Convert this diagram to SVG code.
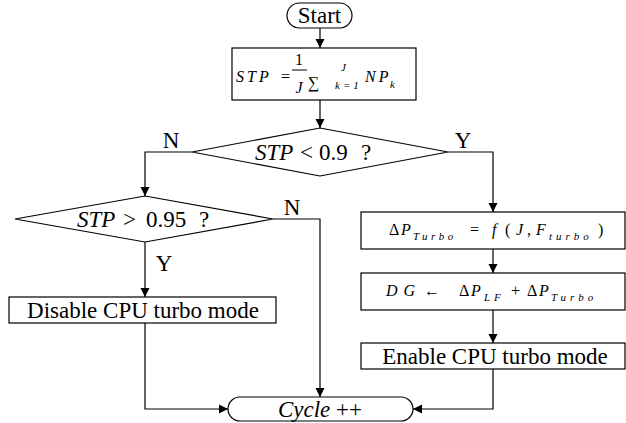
<svg xmlns="http://www.w3.org/2000/svg" width="626" height="423" viewBox="0 0 626 423" font-family="'Liberation Serif', 'Times New Roman', Tinos, 'DejaVu Serif', serif">
<defs>
<marker id="ah" markerWidth="10" markerHeight="10" refX="9" refY="5" orient="auto" markerUnits="userSpaceOnUse">
<path d="M0,0.5 L9,5 L0,9.5 Z" fill="#000"/>
</marker>
<style>
.s{fill:#fff;stroke:#000;stroke-width:1.2}
.c{fill:none;stroke:#000;stroke-width:1.2;marker-end:url(#ah)}
text{font-family:'Liberation Serif','Times New Roman',Tinos,'DejaVu Serif',serif;fill:#000}
.t{font-size:23px}
.m{font-size:16px;font-style:italic}
.ms{font-size:11px;font-style:italic}
.n{font-size:16px}
.i{font-style:italic}
</style>
</defs>
<rect width="626" height="423" fill="#fff"/>
<g id="connectors">
<path class="c" d="M320,28 V48"/>
<path class="c" d="M320,100 V128"/>
<path class="c" d="M192,152 H145 V196"/>
<path class="c" d="M273,219 H320 V397"/>
<path class="c" d="M145,242 V297"/>
<path class="c" d="M145,323 V409 H228"/>
<path class="c" d="M448,152 H493 V212"/>
<path class="c" d="M493,249 V273"/>
<path class="c" d="M493,310 V343"/>
<path class="c" d="M493,369 V409 H413"/>
<text class="t" x="171" y="148" text-anchor="middle">N</text>
<text class="t" x="463" y="148" text-anchor="middle">Y</text>
<text class="t" x="292" y="215" text-anchor="middle">N</text>
<text class="t" x="164" y="271" text-anchor="middle">Y</text>
</g>
<g id="start">
<rect class="s" x="287" y="3" width="65" height="25" rx="12.5"/>
<text class="t" x="319.5" y="23" text-anchor="middle" font-size="22">Start</text>
</g>
<g id="stp">
<rect class="s" x="232" y="48" width="184" height="52"/>
<text class="m" x="236" y="82" letter-spacing="3" font-size="15">STP</text>
<text class="n" x="281" y="82" font-size="15">=</text>
<text class="n" x="299" y="65" text-anchor="middle" font-size="15">1</text>
<line x1="292" y1="70" x2="307" y2="70" stroke="#000" stroke-width="1"/>
<text class="m" x="299" y="93" text-anchor="middle" font-size="15">J</text>
<text class="n" x="308" y="88" font-size="29">∑</text>
<text class="ms" x="341" y="71">J</text>
<text class="ms" x="335" y="89">k</text>
<text class="ms" x="343" y="89" font-style="normal">= 1</text>
<text class="m" x="365" y="82" letter-spacing="3" font-size="15">NP</text>
<text class="ms" x="390" y="88">k</text>
</g>
<g id="dec1">
<polygon class="s" points="320,128 448,152 320,176 192,152"/>
<text class="t" y="160"><tspan class="i" x="255">STP</tspan><tspan x="300">&lt;</tspan><tspan x="319">0.9</tspan><tspan x="361">?</tspan></text>
</g>
<g id="dec2">
<polygon class="s" points="145,196 273,219 145,242 15,219"/>
<text class="t" y="227"><tspan class="i" x="77">STP</tspan><tspan x="123">&gt;</tspan><tspan x="146">0.95</tspan><tspan x="199">?</tspan></text>
</g>
<g id="disable">
<rect class="s" x="9" y="297" width="267" height="26"/>
<text class="t" x="143" y="318" text-anchor="middle" font-size="24">Disable CPU turbo mode</text>
</g>
<g id="dp">
<rect class="s" x="361" y="212" width="264" height="37"/>
<text class="n" x="389" y="235">Δ</text>
<text class="m" x="401" y="235">P</text>
<text class="ms" x="413" y="240" letter-spacing="3.5">Turbo</text>
<text class="n" x="470" y="235">=</text>
<text class="m" x="492" y="235">f</text>
<text class="n" x="505" y="235">(</text>
<text class="m" x="516" y="235">J</text>
<text class="n" x="527" y="235">,</text>
<text class="m" x="536" y="235">F</text>
<text class="ms" x="549" y="240" letter-spacing="4">turbo</text>
<text class="n" x="598" y="235">)</text>
</g>
<g id="dg">
<rect class="s" x="361" y="273" width="264" height="37"/>
<text class="m" x="386" y="296" letter-spacing="6">DG</text>
<text class="n" x="424" y="296">←</text>
<text class="n" x="459" y="296">Δ</text>
<text class="m" x="471" y="296">P</text>
<text class="ms" x="484" y="301" letter-spacing="4">LF</text>
<text class="n" x="511" y="296">+</text>
<text class="n" x="527" y="296">Δ</text>
<text class="m" x="539" y="296">P</text>
<text class="ms" x="551" y="301" letter-spacing="4">Turbo</text>
</g>
<g id="enable">
<rect class="s" x="361" y="343" width="264" height="26"/>
<text class="t" x="495" y="364" text-anchor="middle" font-size="24">Enable CPU turbo mode</text>
</g>
<g id="cycle">
<rect class="s" x="228" y="397" width="185" height="24" rx="12"/>
<text class="t" x="320" y="417" text-anchor="middle"><tspan class="i">Cycle</tspan> ++</text>
</g>
</svg>
